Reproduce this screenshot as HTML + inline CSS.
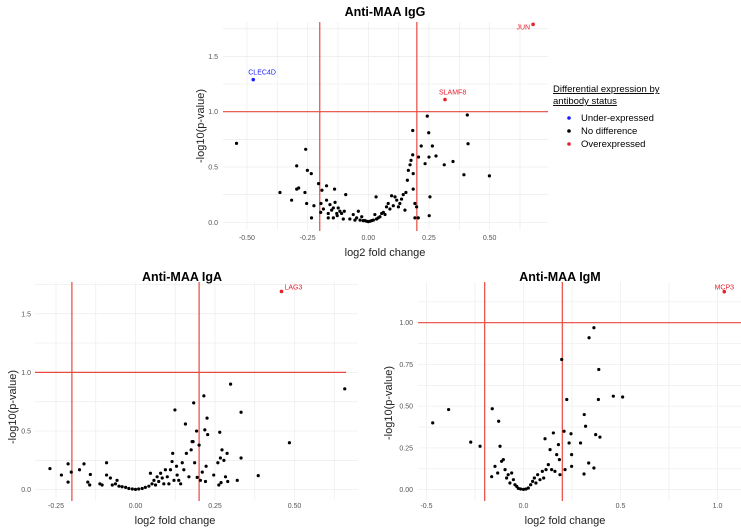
<!DOCTYPE html>
<html><head><meta charset="utf-8">
<style>
html,body{margin:0;padding:0;background:#fff;}
svg{display:block;font-family:"Liberation Sans",sans-serif;}
</style></head>
<body>
<svg id="chart" width="741" height="531" viewBox="0 0 741 531" xmlns="http://www.w3.org/2000/svg">
<g id="legend">
<text x="553" y="92" font-size="9.5" fill="#000" text-decoration="underline">Differential expression by</text>
<text x="553" y="104" font-size="9.5" fill="#000" text-decoration="underline">antibody status</text>
<g><circle cx="569" cy="118" r="1.8" fill="#1a1aff"/><text x="581" y="121" font-size="9.5">Under-expressed</text></g>
<g><circle cx="569" cy="131" r="1.8" fill="#000"/><text x="581" y="134" font-size="9.5">No difference</text></g>
<g><circle cx="569" cy="144" r="1.8" fill="#e8202a"/><text x="581" y="147" font-size="9.5">Overexpressed</text></g>
</g>
</svg>
<script>
// ---- IgG data ----
const iggX = [-0.543,-0.316,-0.364,-0.295,-0.295,-0.287,-0.258,-0.261,-0.251,-0.254,-0.235,-0.234,-0.224,-0.205,-0.191,-0.172,-0.172,-0.195,-0.196,-0.185,-0.165,-0.158,-0.151,-0.144,-0.137,-0.130,-0.139,-0.124,-0.117,-0.110,-0.103,-0.093,-0.099,-0.165,-0.144,-0.128,-0.076,-0.062,-0.055,-0.041,-0.048,-0.034,-0.027,-0.021,-0.014,-0.007,0,0.007,0.014,0.021,0.027,0.034,0.041,0.048,0.055,0.062,0.069,0.032,0.075,0.082,0.089,0.096,0.103,0.110,0.117,0.124,0.130,0.137,0.144,0.151,0.155,0.161,0.165,0.172,0.176,0.183,0.185,0.183,0.185,0.192,0.199,0.192,0.206,0.207,0.218,0.234,0.243,0.249,0.250,0.254,0.251,0.264,0.279,0.313,0.349,0.394,0.408,0.411,0.499];
const iggY = [0.714,0.20,0.27,0.51,0.30,0.31,0.66,0.27,0.47,0.17,0.44,0.04,0.15,0.35,0.29,0.33,0.20,0.17,0.09,0.12,0.08,0.16,0.11,0.13,0.18,0.08,0.30,0.13,0.10,0.08,0.03,0.25,0.10,0.04,0.04,0.06,0.03,0.07,0.02,0.10,0.04,0.02,0.05,0.015,0.015,0.01,0.006,0.01,0.015,0.02,0.07,0.03,0.04,0.05,0.08,0.09,0.07,0.23,0.14,0.17,0.12,0.24,0.15,0.23,0.20,0.14,0.17,0.21,0.25,0.11,0.27,0.38,0.47,0.52,0.56,0.61,0.44,0.83,0.30,0.17,0.14,0.04,0.04,0.59,0.69,0.53,0.96,0.81,0.59,0.23,0.06,0.69,0.60,0.52,0.55,0.43,0.97,0.71,0.42];
const iggLabels = ["CLEC4D","SLAMF8","JUN"];
const iggLabX = [-0.474,0.316,0.679];
const iggLabY = [1.29,1.11,1.79];
const iggLabCol = ["under","over","over"];
const iggXTicks = [-0.5,-0.25,0,0.25,0.5];
const iggXTickLabels = ["-0.50","-0.25","0.00","0.25","0.50"];
const iggYTicks = [0,0.5,1,1.5];
const iggYTickLabels = ["0.0","0.5","1.0","1.5"];

// ---- IgA data ----
const igaX = [-0.269,-0.233,-0.212,-0.212,-0.202,-0.176,-0.162,-0.150,-0.142,-0.144,-0.112,-0.105,-0.091,-0.091,-0.079,-0.073,-0.063,-0.058,-0.052,-0.042,-0.031,-0.021,-0.010,0,0.010,0.021,0.031,0.042,0.047,0.052,0.058,0.063,0.068,0.073,0.079,0.084,0.089,0.094,0.100,0.105,0.110,0.115,0.117,0.121,0.124,0.129,0.131,0.136,0.142,0.147,0.152,0.157,0.160,0.168,0.175,0.178,0.181,0.183,0.186,0.192,0.194,0.200,0.204,0.210,0.215,0.218,0.220,0.222,0.225,0.227,0.246,0.259,0.262,0.265,0.267,0.269,0.272,0.278,0.283,0.288,0.290,0.299,0.320,0.332,0.332,0.386,0.484,0.658];
const igaY = [0.18,0.125,0.22,0.065,0.15,0.17,0.22,0.065,0.13,0.04,0.05,0.04,0.23,0.125,0.10,0.04,0.05,0.08,0.03,0.025,0.02,0.01,0.006,0.003,0.006,0.01,0.02,0.03,0.14,0.05,0.08,0.04,0.11,0.07,0.14,0.10,0.05,0.17,0.11,0.05,0.17,0.24,0.31,0.08,0.68,0.20,0.125,0.08,0.05,0.23,0.17,0.56,0.31,0.11,0.34,0.41,0.41,0.74,0.23,0.50,0.105,0.38,0.08,0.15,0.80,0.51,0.07,0.20,0.61,0.47,0.125,0.23,0.04,0.49,0.27,0.06,0.34,0.25,0.11,0.31,0.07,0.90,0.08,0.66,0.27,0.12,0.40,0.86];
const igaLabels = ["LAG3"];
const igaLabX = [0.459];
const igaLabY = [1.69];
const igaLabCol = ["over"];
const igaXTicks = [-0.25,0,0.25,0.5];
const igaXTickLabels = ["-0.25","0.00","0.25","0.50"];
const igaYTicks = [0,0.5,1,1.5];
const igaYTickLabels = ["0.0","0.5","1.0","1.5"];

// ---- IgM data ----
const igmX = [-0.468,-0.386,-0.272,-0.224,-0.161,-0.164,-0.147,-0.128,-0.121,-0.113,-0.104,-0.133,-0.095,-0.087,-0.079,-0.070,-0.061,-0.052,-0.044,-0.035,-0.027,-0.015,0,0.013,0.025,0.037,0.047,0.056,0.064,0.073,0.085,0.097,0.104,0.111,0.116,0.128,0.137,0.145,0.154,0.162,0.171,0.180,0.185,0.188,0.197,0.209,0.214,0.223,0.235,0.245,0.248,0.248,0.294,0.312,0.313,0.320,0.336,0.338,0.363,0.363,0.372,0.386,0.388,0.394,0.463,0.511];
const igmY = [0.40,0.48,0.285,0.26,0.485,0.078,0.14,0.41,0.26,0.17,0.18,0.10,0.12,0.07,0.09,0.04,0.10,0.06,0.03,0.02,0.008,0.004,0.002,0.004,0.01,0.03,0.05,0.07,0.04,0.09,0.06,0.11,0.07,0.305,0.12,0.15,0.24,0.12,0.34,0.11,0.21,0.27,0.18,0.09,0.78,0.35,0.12,0.54,0.28,0.335,0.21,0.14,0.28,0.094,0.45,0.38,0.16,0.91,0.13,0.97,0.33,0.54,0.72,0.315,0.56,0.555];
const igmLabels = ["MCP3"];
const igmLabX = [1.035];
const igmLabY = [1.186];
const igmLabCol = ["over"];
const igmXTicks = [-0.5,0,0.5,1.0];
const igmXTickLabels = ["-0.5","0.0","0.5","1.0"];
const igmYTicks = [0,0.25,0.5,0.75,1.0];
const igmYTickLabels = ["0.00","0.25","0.50","0.75","1.00"];

const NS="http://www.w3.org/2000/svg";
const svg=document.getElementById('chart');
function mk(tag,attrs,parent){const e=document.createElementNS(NS,tag);for(const k in attrs)e.setAttribute(k,attrs[k]);parent.appendChild(e);return e;}
const COL={under:"#1a1aff",over:"#e8202a"};

function panel(cfg){
  const g=mk('g',{},svg);
  
  
  const sx=v=>cfg.x0+v*cfg.kx, sy=v=>cfg.y0-v*cfg.ky;
  const xmin=(cfg.L-cfg.x0)/cfg.kx, xmax=(cfg.R-cfg.x0)/cfg.kx;
  const ymax=(cfg.y0-cfg.T)/cfg.ky, ymin=(cfg.y0-cfg.B)/cfg.ky;
  const gx=cfg.xt[1]-cfg.xt[0], gy=cfg.yt[1]-cfg.yt[0];
  // grid
  for(let v=Math.ceil(xmin/(gx/2))*(gx/2); v<=xmax; v+=gx/2){
    const l=mk('line',{x1:sx(v),x2:sx(v),y1:cfg.T,y2:cfg.B,stroke:"#ececec","stroke-width":0.7},g);
    
    
  }
  for(let v=Math.ceil(ymin/(gy/2))*(gy/2); v<=ymax; v+=gy/2){
    const l=mk('line',{x1:cfg.L,x2:cfg.R,y1:sy(v),y2:sy(v),stroke:"#ececec","stroke-width":0.7},g);
    
    
  }
  cfg.xt.forEach((v,i)=>{
    const t=mk('text',{x:sx(v),y:cfg.xtY,"font-size":7,fill:"#555","text-anchor":"middle"},g);
    t.textContent=cfg.xtl[i];
    
    
  });
  cfg.yt.forEach((v,i)=>{
    const t=mk('text',{x:cfg.ytX,y:sy(v)+2.5,"font-size":7,fill:"#555","text-anchor":"end"},g);
    t.textContent=cfg.ytl[i];
    
    
  });
  // threshold lines
  [-0.2,0.2].forEach(v=>{
    const l=mk('line',{x1:sx(v),x2:sx(v),y1:cfg.vT,y2:cfg.vB,stroke:"#e8483f","stroke-width":1.2},g);
    
    
  });
  const h=mk('line',{x1:cfg.hL,x2:cfg.hR,y1:sy(1),y2:sy(1),stroke:"#e8483f","stroke-width":1.2},g);
  
  
  // points
  cfg.px.forEach((v,i)=>{
    const c=mk('circle',{cx:sx(v),cy:sy(cfg.py[i]),r:1.6,fill:"#000"},g);
    
    
  });
  cfg.lab.forEach((s,i)=>{
    const col=COL[cfg.labCol[i]];
    const c=mk('circle',{cx:sx(cfg.labX[i]),cy:sy(cfg.labY[i]),r:1.8,fill:col},g);
    
    
    const o=cfg.labOff[i];
    const t=mk('text',{x:sx(cfg.labX[i])+o[0],y:sy(cfg.labY[i])+o[1],"font-size":7,fill:col,"text-anchor":o[2]},g);
    t.textContent=s;
    
    
  });
  const ti=mk('text',{x:cfg.titleX,y:cfg.titleY,"font-size":12.5,"font-weight":"bold","text-anchor":"middle"},g);
  ti.textContent=cfg.title;
  
  
  const xa=mk('text',{x:cfg.xaX,y:cfg.xaY,"font-size":11,"text-anchor":"middle",fill:"#222"},g);
  xa.textContent="log2 fold change";
  
  
  const ya=mk('text',{x:0,y:0,"font-size":11,"text-anchor":"middle",fill:"#222",transform:`translate(${cfg.yaX},${cfg.yaY}) rotate(-90)`},g);
  ya.textContent="-log10(p-value)";
  
  
}

panel({name:'igg-panel',title:'Anti-MAA IgG',x0:368.3,kx:242.7,y0:222.3,ky:110.6,L:223,R:548,T:22,B:230,
  vT:22,vB:231,hL:223,hR:548,xt:iggXTicks,xtl:iggXTickLabels,yt:iggYTicks,ytl:iggYTickLabels,xtY:240,ytX:218,
  px:iggX,py:iggY,lab:iggLabels,labX:iggLabX,labY:iggLabY,labCol:iggLabCol,
  labOff:[[-5,-5,"start"],[-6,-5,"start"],[-3,5,"end"]],
  titleX:385,titleY:16,xaX:385,xaY:256,yaX:204,yaY:126});
panel({name:'iga-panel',title:'Anti-MAA IgA',x0:135.5,kx:318,y0:489.7,ky:117.3,L:35,R:358,T:282,B:500,
  vT:282,vB:501,hL:35,hR:346,xt:igaXTicks,xtl:igaXTickLabels,yt:igaYTicks,ytl:igaYTickLabels,xtY:508,ytX:31,
  px:igaX,py:igaY,lab:igaLabels,labX:igaLabX,labY:igaLabY,labCol:igaLabCol,
  labOff:[[3,-2,"start"]],
  titleX:182,titleY:281,xaX:175,xaY:524,yaX:16,yaY:407});
panel({name:'igm-panel',title:'Anti-MAA IgM',x0:523.5,kx:194,y0:489.7,ky:167,L:418,R:741,T:282,B:500,
  vT:282,vB:501,hL:418,hR:741,xt:igmXTicks,xtl:igmXTickLabels,yt:igmYTicks,ytl:igmYTickLabels,xtY:508,ytX:413,
  px:igmX,py:igmY,lab:igmLabels,labX:igmLabX,labY:igmLabY,labCol:igmLabCol,
  labOff:[[0,-2,"middle"]],
  titleX:560,titleY:281,xaX:565,xaY:524,yaX:392,yaY:403});
</script>
</body></html>
